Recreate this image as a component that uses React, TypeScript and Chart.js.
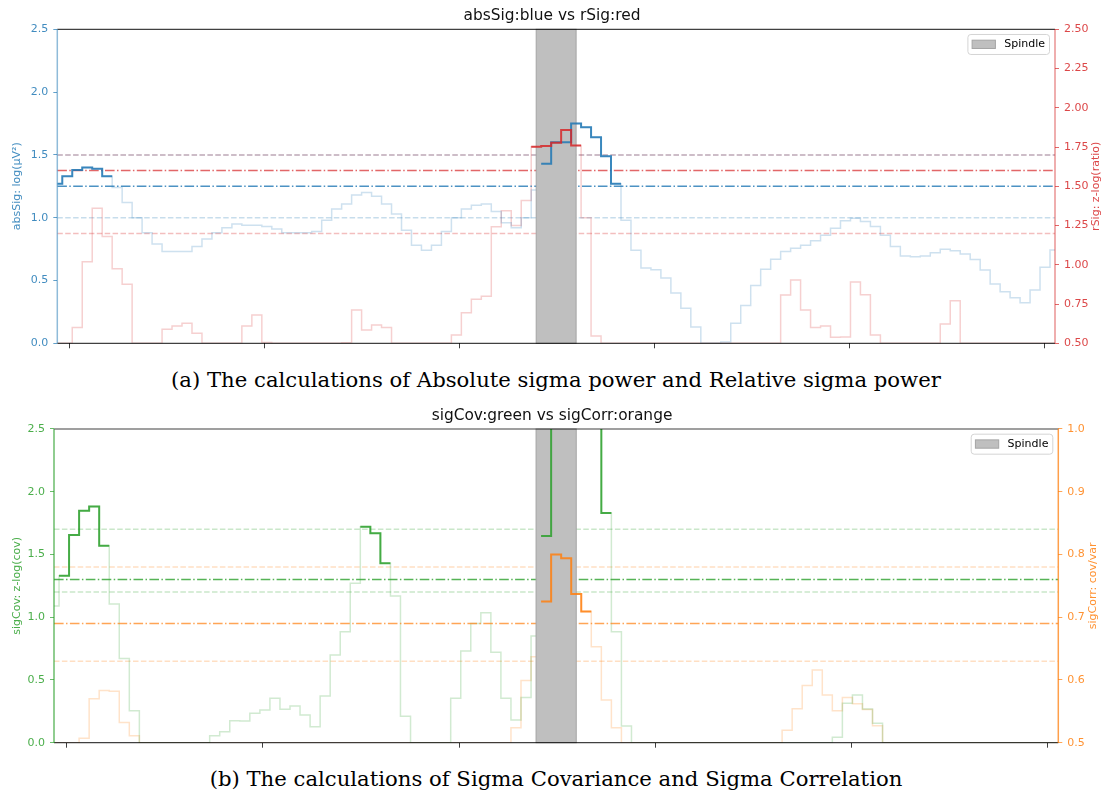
import React, { useEffect, useRef } from "react";
import { Chart, registerables } from "chart.js";

Chart.register(...registerables);
Chart.defaults.font.family = "'DejaVu Sans'";
Chart.defaults.font.size = 11;

// ---------------- data ----------------
const sampleIndex: number[] = Array.from({ length: 101 }, (_, i) => i);
const xTickPositions = [1.27, 20.8, 40.33, 59.86, 79.39, 98.92];
const spindleStart = 48;
const spindleEnd = 52;

const absSig = [
  1.27, 1.33, 1.38, 1.4, 1.39, 1.33, 1.24, 1.12, 1.0, 0.88,
  0.79, 0.73, 0.73, 0.73, 0.77, 0.83, 0.88, 0.92, 0.95, 0.94,
  0.94, 0.93, 0.91, 0.88, 0.88, 0.88, 0.89, 0.98, 1.07, 1.11,
  1.18, 1.2, 1.17, 1.11, 1.03, 0.9, 0.78, 0.74, 0.78, 0.89,
  1.0, 1.07, 1.1, 1.11, 1.05, 0.96, 0.92, 1.0, 1.22, 1.43,
  1.6, 1.6, 1.75, 1.72, 1.64, 1.49, 1.27, 0.98, 0.74, 0.6,
  0.585, 0.52, 0.4, 0.28, 0.13, 0.0, 0.0, 0.01, 0.16, 0.3,
  0.46, 0.59, 0.67, 0.73, 0.756, 0.78, 0.817, 0.86, 0.915, 0.976,
  0.995, 0.97, 0.93, 0.86, 0.77, 0.695, 0.69, 0.695, 0.72, 0.748,
  0.737, 0.71, 0.668, 0.584, 0.472, 0.41, 0.363, 0.323, 0.424, 0.605,
  0.743,
];

const rSig = [
  0.5, 0.5, 0.6, 1.02, 1.36, 1.18, 0.975, 0.876, 0.5, 0.5,
  0.5, 0.59, 0.61, 0.627, 0.564, 0.5, 0.5, 0.5, 0.5, 0.61,
  0.68, 0.505, 0.5, 0.5, 0.5, 0.5, 0.5, 0.5, 0.5, 0.503,
  0.712, 0.585, 0.617, 0.6, 0.5, 0.5, 0.5, 0.5, 0.5, 0.5,
  0.553, 0.695, 0.78, 0.8, 1.243, 1.345, 1.25, 1.41, 1.752, 1.757,
  1.778, 1.859, 1.759, 1.3, 0.546, 0.5, 0.5, 0.5, 0.5, 0.5,
  0.5, 0.5, 0.5, 0.5, 0.5, 0.5, 0.5, 0.5, 0.5, 0.5,
  0.5, 0.5, 0.5, 0.808, 0.903, 0.712, 0.6, 0.61, 0.538, 0.54,
  0.89, 0.81, 0.553, 0.5, 0.5, 0.5, 0.5, 0.5, 0.5, 0.623,
  0.771, 0.5, 0.5, 0.5, 0.5, 0.5, 0.5, 0.5, 0.5, 0.5,
  0.5,
];

const sigCov = [
  1.09, 1.33, 1.655, 1.849, 1.883, 1.57, 1.105, 0.67, 0.255, 0,
  0, 0, 0, 0, 0, 0, 0.056, 0.088, 0.175, 0.172,
  0.234, 0.26, 0.354, 0.266, 0.292, 0.22, 0.127, 0.372, 0.699, 0.884,
  1.27, 1.72, 1.67, 1.43, 1.17, 0.21, 0, 0, 0, 0,
  0.354, 0.73, 0.95, 1.036, 0.72, 0.354, 0.18, 0.36, 0.85, 1.647,
  3.0, 3.4, 3.6, 3.2, 2.8, 1.83, 0.885, 0.133, 0, 0,
  0, 0, 0, 0, 0, 0, 0, 0, 0, 0,
  0, 0, 0, 0, 0, 0, 0, 0, 0.043, 0.314,
  0.38, 0.268, 0.155, 0, 0, 0, 0, 0, 0, 0,
  0, 0, 0, 0, 0, 0, 0, 0, 0, 0,
  0,
];

const sigCorr = [
  0.5, 0.5, 0.5, 0.507, 0.57, 0.583, 0.582, 0.532, 0.511, 0.5,
  0.5, 0.5, 0.5, 0.5, 0.5, 0.5, 0.5, 0.5, 0.5, 0.5,
  0.5, 0.5, 0.5, 0.5, 0.5, 0.5, 0.5, 0.5, 0.5, 0.5,
  0.5, 0.5, 0.5, 0.5, 0.5, 0.5, 0.5, 0.5, 0.5, 0.5,
  0.5, 0.5, 0.5, 0.5, 0.5, 0.5, 0.524, 0.599, 0.637, 0.725,
  0.8, 0.794, 0.737, 0.709, 0.653, 0.568, 0.524, 0.5, 0.5, 0.5,
  0.5, 0.5, 0.5, 0.5, 0.5, 0.5, 0.5, 0.5, 0.5, 0.5,
  0.5, 0.5, 0.5, 0.52, 0.554, 0.591, 0.616, 0.576, 0.551, 0.572,
  0.562, 0.553, 0.527, 0.5, 0.5, 0.5, 0.5, 0.5, 0.5, 0.5,
  0.5, 0.5, 0.5, 0.5, 0.5, 0.5, 0.5, 0.5, 0.5, 0.5,
  0.5,
];

const absSigThreshold = 1.25;
const absSigLimits = [1.0, 1.5];
const rSigThreshold = 1.6;
const rSigLimits = [1.2, 1.7];
const sigCovThreshold = 1.3;
const sigCovLimits = [1.2, 1.7];
const sigCorrThreshold = 0.69;
const sigCorrLimits = [0.63, 0.78];

const absSigTicks = [0, 0.5, 1.0, 1.5, 2.0, 2.5];
const rSigTicks = [0.5, 0.75, 1.0, 1.25, 1.5, 1.75, 2.0, 2.25, 2.5];
const sigCovTicks = [0, 0.5, 1.0, 1.5, 2.0, 2.5];
const sigCorrTicks = [0.5, 0.6, 0.7, 0.8, 0.9, 1.0];

const legendLabel = "Spindle";
const titleA = "absSig:blue vs rSig:red";
const titleB = "sigCov:green vs sigCorr:orange";
const captionA = "(a) The calculations of Absolute sigma power and Relative sigma power";
const captionB = "(b) The calculations of Sigma Covariance and Sigma Correlation";

// ---------------- helpers ----------------
type RGB = [number, number, number];
const BLUE: RGB = [31, 119, 180];
const RED: RGB = [214, 39, 40];
const GREEN: RGB = [44, 160, 44];
const ORANGE: RGB = [255, 127, 14];
const rgba = (c: RGB, a: number) => `rgba(${c[0]},${c[1]},${c[2]},${a})`;

type Side = {
  values: number[];
  thr: number;
  limits: number[];
  color: RGB;
  ticks: number[];
  decimals: number;
  label: string;
  min: number;
  max: number;
  spineAlpha: number;
  limitAlpha: number;
};

type Spec = {
  title: string;
  left: Side;
  right: Side;
  leftWidth: number;
  rightWidth: number;
  xAxisHeight: number;
  titlePadTop: number;
  titlePadBottom: number;
  leftTitleOffset: number;
  rightTitleOffset: number;
};

function darkPoints(vals: number[], thr: number) {
  const pts: { x: number; y: number | null }[] = [];
  const last = sampleIndex[sampleIndex.length - 1];
  let i = 0;
  while (i < vals.length) {
    if (vals[i] >= thr) {
      let j = i;
      while (j + 1 < vals.length && vals[j + 1] >= thr) j++;
      pts.push({ x: Math.max(0, sampleIndex[i] - 0.5), y: vals[i] });
      for (let k = i; k <= j; k++) pts.push({ x: sampleIndex[k], y: vals[k] });
      pts.push({ x: Math.min(last, sampleIndex[j] + 0.5), y: vals[j] });
      pts.push({ x: Math.min(last, sampleIndex[j] + 0.75), y: null });
      i = j + 1;
    } else i++;
  }
  return pts;
}

function buildChart(canvas: HTMLCanvasElement, spec: Spec) {
  const L = spec.left;
  const R = spec.right;
  const light = (vals: number[]) => sampleIndex.map((x, i) => ({ x, y: vals[i] }));
  const hline = (y: number) => [
    { x: sampleIndex[0], y },
    { x: sampleIndex[sampleIndex.length - 1], y },
  ];
  const base: any = {
    pointRadius: 0,
    pointHoverRadius: 0,
    fill: false,
    tension: 0,
    borderCapStyle: "butt",
    borderJoinStyle: "miter",
    spanGaps: false,
  };
  const datasets: any[] = [
    { ...base, label: "rDark", data: darkPoints(R.values, R.thr), yAxisID: "y1", borderColor: rgba(R.color, 0.85), borderWidth: 2, stepped: "middle", order: 0 },
    { ...base, label: "lDark", data: darkPoints(L.values, L.thr), yAxisID: "y", borderColor: rgba(L.color, 0.85), borderWidth: 2, stepped: "middle", order: 1 },
    { ...base, label: "lLight", data: light(L.values), yAxisID: "y", borderColor: rgba(L.color, 0.22), borderWidth: 1.5, stepped: "middle", order: 3 },
    { ...base, label: "rLight", data: light(R.values), yAxisID: "y1", borderColor: rgba(R.color, 0.22), borderWidth: 1.5, stepped: "middle", order: 3 },
    { ...base, label: "lThr", data: hline(L.thr), yAxisID: "y", borderColor: rgba(L.color, 0.8), borderWidth: 1.5, borderDash: [9.6, 2.4, 1.5, 2.4], order: 2 },
    { ...base, label: "rThr", data: hline(R.thr), yAxisID: "y1", borderColor: rgba(R.color, 0.7), borderWidth: 1.5, borderDash: [9.6, 2.4, 1.5, 2.4], order: 2 },
    ...L.limits.map((v) => ({ ...base, label: "lLim", data: hline(v), yAxisID: "y", borderColor: rgba(L.color, L.limitAlpha), borderWidth: 1.5, borderDash: [5.5, 2.4], order: 4 })),
    ...R.limits.map((v) => ({ ...base, label: "rLim", data: hline(v), yAxisID: "y1", borderColor: rgba(R.color, R.limitAlpha), borderWidth: 1.5, borderDash: [5.5, 2.4], order: 4 })),
  ];

  const bandFill = "rgb(191,191,191)";
  const bandEdge = "rgb(165,165,165)";

  const overlay = {
    id: "overlay",
    beforeDatasetDraw(chart: any, args: any) {
      if (args.index !== 1) return;
      const ctx = chart.ctx;
      const a = chart.chartArea;
      const xs = chart.scales.x;
      const x0 = xs.getPixelForValue(spindleStart);
      const x1 = xs.getPixelForValue(spindleEnd);
      ctx.save();
      ctx.fillStyle = bandFill;
      ctx.fillRect(x0, a.top, x1 - x0, a.bottom - a.top);
      ctx.strokeStyle = bandEdge;
      ctx.lineWidth = 1;
      ctx.strokeRect(x0, a.top, x1 - x0, a.bottom - a.top);
      ctx.restore();
    },
    afterDraw(chart: any) {
      const ctx = chart.ctx;
      const a = chart.chartArea;
      ctx.save();
      // spines
      ctx.lineWidth = 1.2;
      ctx.strokeStyle = "rgba(0,0,0,0.75)";
      ctx.beginPath();
      ctx.moveTo(a.left, a.top);
      ctx.lineTo(a.right, a.top);
      ctx.moveTo(a.left, a.bottom);
      ctx.lineTo(a.right, a.bottom);
      ctx.stroke();
      ctx.lineWidth = 1.5;
      ctx.strokeStyle = rgba(L.color, L.spineAlpha);
      ctx.beginPath();
      ctx.moveTo(a.left, a.top);
      ctx.lineTo(a.left, a.bottom);
      ctx.stroke();
      ctx.strokeStyle = rgba(R.color, R.spineAlpha);
      ctx.beginPath();
      ctx.moveTo(a.right, a.top);
      ctx.lineTo(a.right, a.bottom);
      ctx.stroke();

      // legend
      const w = 81.6, h = 20;
      const lx = a.right - 5.5 - w;
      const ly = a.top + 5.2;
      ctx.beginPath();
      const r = 3;
      ctx.moveTo(lx + r, ly);
      ctx.lineTo(lx + w - r, ly);
      ctx.quadraticCurveTo(lx + w, ly, lx + w, ly + r);
      ctx.lineTo(lx + w, ly + h - r);
      ctx.quadraticCurveTo(lx + w, ly + h, lx + w - r, ly + h);
      ctx.lineTo(lx + r, ly + h);
      ctx.quadraticCurveTo(lx, ly + h, lx, ly + h - r);
      ctx.lineTo(lx, ly + r);
      ctx.quadraticCurveTo(lx, ly, lx + r, ly);
      ctx.closePath();
      ctx.fillStyle = "rgba(255,255,255,0.8)";
      ctx.fill();
      ctx.lineWidth = 1;
      ctx.strokeStyle = "rgb(212,212,212)";
      ctx.stroke();
      ctx.fillStyle = bandFill;
      ctx.fillRect(lx + 4.2, ly + 5.7, 23.3, 8.3);
      ctx.strokeStyle = bandEdge;
      ctx.strokeRect(lx + 4.2, ly + 5.7, 23.3, 8.3);
      ctx.fillStyle = "#000";
      ctx.font = "11px 'DejaVu Sans'";
      ctx.textAlign = "left";
      ctx.textBaseline = "middle";
      ctx.fillText(legendLabel, lx + 36.4, ly + h / 2);

      // axis titles
      const yc = (a.top + a.bottom) / 2;
      ctx.font = "11px 'DejaVu Sans'";
      ctx.textAlign = "center";
      ctx.textBaseline = "middle";
      ctx.fillStyle = rgba(L.color, 0.85);
      ctx.save();
      ctx.translate(a.left - spec.leftTitleOffset, yc);
      ctx.rotate(-Math.PI / 2);
      ctx.fillText(L.label, 0, 0);
      ctx.restore();
      ctx.fillStyle = rgba(R.color, 0.85);
      ctx.save();
      ctx.translate(a.right + spec.rightTitleOffset, yc);
      ctx.rotate(-Math.PI / 2);
      ctx.fillText(R.label, 0, 0);
      ctx.restore();
      ctx.restore();
    },
  };

  const yScale = (side: Side, position: "left" | "right", width: number) => ({
    type: "linear",
    position,
    min: side.min,
    max: side.max,
    afterBuildTicks: (s: any) => {
      s.ticks = side.ticks.map((v) => ({ value: v }));
    },
    afterFit: (s: any) => {
      s.width = width;
    },
    ticks: {
      color: rgba(side.color, 0.85),
      padding: 5,
      font: { size: 11 },
      callback: (v: any) => Number(v).toFixed(side.decimals),
    },
    grid: {
      drawOnChartArea: false,
      drawTicks: true,
      tickLength: 4,
      tickWidth: 1,
      tickColor: rgba(side.color, 0.7),
    },
    border: { display: false },
  });

  return new Chart(canvas, {
    type: "line",
    data: { datasets },
    options: {
      responsive: false,
      animation: false,
      devicePixelRatio: 1,
      events: [],
      layout: { padding: 0 },
      plugins: {
        legend: { display: false },
        tooltip: { enabled: false },
        title: {
          display: true,
          text: spec.title,
          color: "#111",
          font: { family: "'DejaVu Sans'", size: 15.4, weight: "normal" },
          padding: { top: spec.titlePadTop, bottom: spec.titlePadBottom },
        },
      },
      scales: {
        x: {
          type: "linear",
          min: sampleIndex[0],
          max: sampleIndex[sampleIndex.length - 1],
          afterBuildTicks: (s: any) => {
            s.ticks = xTickPositions.map((v) => ({ value: v }));
          },
          afterFit: (s: any) => {
            s.height = spec.xAxisHeight;
          },
          ticks: { display: false },
          grid: {
            drawOnChartArea: false,
            drawTicks: true,
            tickLength: 5,
            tickWidth: 1,
            tickColor: "rgba(0,0,0,0.75)",
          },
          border: { display: false },
        },
        y: yScale(L, "left", spec.leftWidth),
        y1: yScale(R, "right", spec.rightWidth),
      },
    } as any,
    plugins: [overlay as any],
  });
}

const specA: Spec = {
  title: titleA,
  left: { values: absSig, thr: absSigThreshold, limits: absSigLimits, color: BLUE, ticks: absSigTicks, decimals: 1, label: "absSig: log(μV²)", min: 0, max: 2.5, spineAlpha: 0.5, limitAlpha: 0.25 },
  right: { values: rSig, thr: rSigThreshold, limits: rSigLimits, color: RED, ticks: rSigTicks, decimals: 2, label: "rSig: z-log(ratio)", min: 0.5, max: 2.5, spineAlpha: 0.5, limitAlpha: 0.3 },
  leftWidth: 57.3,
  rightWidth: 49,
  xAxisHeight: 16.7,
  titlePadTop: 6.8,
  titlePadBottom: 4.0,
  leftTitleOffset: 40,
  rightTitleOffset: 41,
};

const specB: Spec = {
  title: titleB,
  left: { values: sigCov, thr: sigCovThreshold, limits: sigCovLimits, color: GREEN, ticks: sigCovTicks, decimals: 1, label: "sigCov: z-log(cov)", min: 0, max: 2.5, spineAlpha: 0.7, limitAlpha: 0.25 },
  right: { values: sigCorr, thr: sigCorrThreshold, limits: sigCorrLimits, color: ORANGE, ticks: sigCorrTicks, decimals: 1, label: "sigCorr: cov/var", min: 0.5, max: 1.0, spineAlpha: 0.75, limitAlpha: 0.25 },
  leftWidth: 54,
  rightWidth: 45.7,
  xAxisHeight: 17.3,
  titlePadTop: 6.8,
  titlePadBottom: 3.7,
  leftTitleOffset: 37,
  rightTitleOffset: 35,
};

function ChartCanvas({ spec, top }: { spec: Spec; top: number }) {
  const ref = useRef<HTMLCanvasElement | null>(null);
  useEffect(() => {
    if (!ref.current) return;
    const chart = buildChart(ref.current, spec);
    return () => chart.destroy();
  }, [spec]);
  return (
    <canvas
      ref={ref}
      width={1104}
      height={360}
      style={{ position: "absolute", left: 0, top, width: 1104, height: 360, display: "block" }}
    />
  );
}

const captionStyle: React.CSSProperties = {
  position: "absolute",
  left: 0,
  width: 1112,
  textAlign: "center",
  fontFamily: "'DejaVu Serif', serif",
  fontSize: 21.2,
  lineHeight: "28px",
  color: "#000",
  whiteSpace: "nowrap",
};

export default function App() {
  return (
    <div style={{ position: "absolute", left: 0, top: 0, width: 1104, height: 796, background: "#fff", overflow: "hidden" }}>
      <ChartCanvas spec={specA} top={0} />
      <div style={{ ...captionStyle, top: 366 }}>{captionA}</div>
      <ChartCanvas spec={specB} top={400} />
      <div style={{ ...captionStyle, top: 765 }}>{captionB}</div>
    </div>
  );
}
